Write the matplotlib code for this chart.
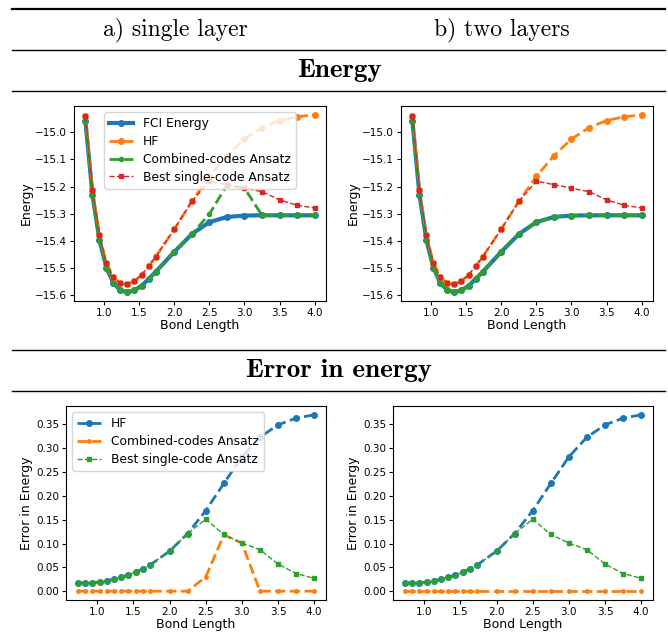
import matplotlib.pyplot as plt
from matplotlib.lines import Line2D
import numpy as np

# bond lengths
bond = [0.73, 0.83, 0.93, 1.03, 1.13, 1.23, 1.33, 1.43, 1.53, 1.63, 1.73,
        2.0, 2.25, 2.5, 2.75, 3.0, 3.25, 3.5, 3.75, 4.0]

fci_energy = [-14.960, -15.230, -15.398, -15.500, -15.556, -15.582, -15.589,
              -15.582, -15.566, -15.541, -15.515, -15.440, -15.375, -15.331,
              -15.312, -15.307, -15.306, -15.306, -15.306, -15.306]

hf_err = [0.018, 0.017, 0.018, 0.019, 0.022, 0.025, 0.029, 0.034, 0.040,
          0.047, 0.055, 0.084, 0.121, 0.169, 0.226, 0.282, 0.323, 0.349,
          0.363, 0.370]

best_err = [0.018, 0.017, 0.018, 0.019, 0.022, 0.025, 0.029, 0.034, 0.040,
            0.047, 0.055, 0.084, 0.121, 0.151, 0.119, 0.101, 0.087, 0.057,
            0.037, 0.027]

comb_err_single = [0.0] * 13 + [0.030, 0.118, 0.101, 0.0, 0.0, 0.0, 0.0]
comb_err_two = [0.0] * 20

panels = [("a) single layer", comb_err_single), ("b) two layers", comb_err_two)]

fig = plt.figure(figsize=(6.68, 6.44), dpi=100)
W, H = 668, 644


def box(l, t, r, b):
    return [l / W, 1 - b / H, (r - l) / W, (b - t) / H]


def rule(y, lw):
    fig.add_artist(Line2D([12 / W, 665 / W], [1 - y / H, 1 - y / H],
                          color='black', lw=lw))


rule(9, 1.6)
rule(50, 1.0)
rule(91, 1.0)
rule(350, 1.0)
rule(391, 1.0)

fig.text(175 / W, 1 - 30 / H, "a) single layer", fontname='cmr10',
         fontsize=17, ha='center', va='center')
fig.text(502 / W, 1 - 30 / H, "b) two layers", fontname='cmr10',
         fontsize=17, ha='center', va='center')
fig.text(339 / W, 1 - 70 / H, "Energy", fontname='cmb10',
         fontsize=19.5, ha='center', va='center')
fig.text(339 / W, 1 - 370 / H, "Error in energy", fontname='cmb10',
         fontsize=19.5, ha='center', va='center')

top_boxes = [box(74, 106, 326, 301), box(401, 106, 653, 301)]
bot_boxes = [box(66, 406, 326, 600), box(393, 406, 653, 600)]

fci = np.array(fci_energy)
for i, (name, comb_err) in enumerate(panels):
    ax = fig.add_axes(top_boxes[i])
    ax.plot(bond, fci, '-o', color='C0', lw=3, ms=4, label='FCI Energy')
    ax.plot(bond, fci + np.array(hf_err), '--o', color='C1', lw=2, ms=4,
            label='HF')
    ax.plot(bond, fci + np.array(comb_err), '--o', color='C2', lw=2, ms=3,
            label='Combined-codes Ansatz')
    ax.plot(bond, fci + np.array(best_err), '--s', color='C3', lw=1, ms=2.5,
            label='Best single-code Ansatz')
    ax.set_xticks([1.0, 1.5, 2.0, 2.5, 3.0, 3.5, 4.0])
    ax.set_xlabel("Bond Length", fontsize=9, labelpad=1)
    ax.set_ylabel("Energy", fontsize=9, labelpad=2)
    ax.tick_params(labelsize=7.5, length=3, pad=2)
    if i == 0:
        ax.legend(fontsize=8.8, loc='upper center', handlelength=2.0,
                  borderpad=0.4, labelspacing=0.4)

    ax = fig.add_axes(bot_boxes[i])
    ax.plot(bond, hf_err, '--o', color='C0', lw=2, ms=4, label='HF')
    ax.plot(bond, comb_err, '--o', color='C1', lw=2, ms=2.5,
            label='Combined-codes Ansatz')
    ax.plot(bond, best_err, '--s', color='C2', lw=1, ms=2.5,
            label='Best single-code Ansatz')
    ax.set_xticks([1.0, 1.5, 2.0, 2.5, 3.0, 3.5, 4.0])
    ax.set_xlabel("Bond Length", fontsize=9, labelpad=1)
    ax.set_ylabel("Error in Energy", fontsize=9, labelpad=2)
    ax.tick_params(labelsize=7.5, length=3, pad=2)
    if i == 0:
        ax.legend(fontsize=8.8, loc='upper left', handlelength=2.0,
                  borderpad=0.4, labelspacing=0.4)

fig.savefig("out.png", dpi=100)
